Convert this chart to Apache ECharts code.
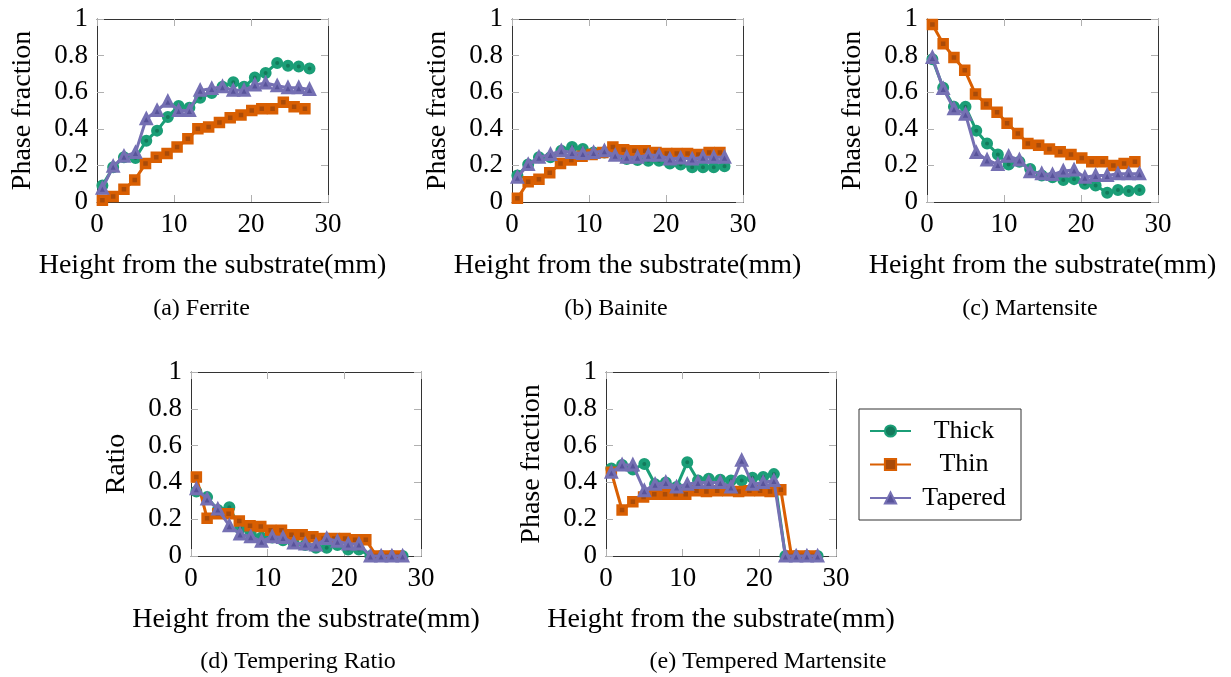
<!DOCTYPE html>
<html>
<head>
<meta charset="utf-8">
<script src="https://cdn.jsdelivr.net/npm/echarts@6/dist/echarts.min.js"></script>
<style>
  html, body { margin: 0; padding: 0; background: #ffffff; }
  #chart { width: 1231px; height: 677px; }
</style>
</head>
<body>
<div id="chart"></div>
<script>
// Build heights (mm) of the sampled layers for each wall geometry
const heightThick   = [0.7, 2.1, 3.5, 5.0, 6.4, 7.8, 9.2, 10.6, 12.0, 13.4, 14.9, 16.3, 17.7, 19.1, 20.5, 21.9, 23.4, 24.8, 26.2, 27.6];
const heightThin    = [0.7, 2.1, 3.5, 4.9, 6.3, 7.7, 9.1, 10.4, 11.8, 13.1, 14.5, 15.9, 17.3, 18.7, 20.1, 21.4, 22.8, 24.2, 25.6, 27.0];
const heightTapered = [0.7, 2.1, 3.5, 5.0, 6.4, 7.8, 9.2, 10.6, 12.0, 13.4, 14.9, 16.3, 17.7, 19.1, 20.5, 21.9, 23.4, 24.8, 26.2, 27.6];

// (a) Ferrite
const ferriteThick   = [0.09, 0.19, 0.245, 0.24, 0.335, 0.39, 0.465, 0.525, 0.515, 0.57, 0.595, 0.63, 0.655, 0.63, 0.68, 0.705, 0.76, 0.745, 0.74, 0.73];
const ferriteThin    = [0.01, 0.03, 0.07, 0.12, 0.21, 0.245, 0.265, 0.30, 0.345, 0.40, 0.41, 0.435, 0.46, 0.475, 0.50, 0.51, 0.51, 0.545, 0.52, 0.51];
const ferriteTapered = [0.075, 0.195, 0.25, 0.27, 0.455, 0.50, 0.55, 0.50, 0.50, 0.61, 0.62, 0.63, 0.61, 0.61, 0.64, 0.65, 0.635, 0.625, 0.625, 0.615];

// (b) Bainite
const bainiteThick   = [0.145, 0.205, 0.245, 0.245, 0.28, 0.30, 0.29, 0.27, 0.27, 0.265, 0.235, 0.23, 0.225, 0.225, 0.21, 0.205, 0.19, 0.19, 0.19, 0.195];
const bainiteThin    = [0.02, 0.11, 0.125, 0.16, 0.21, 0.23, 0.25, 0.26, 0.27, 0.30, 0.285, 0.28, 0.28, 0.27, 0.265, 0.265, 0.265, 0.26, 0.27, 0.27];
const bainiteTapered = [0.135, 0.205, 0.245, 0.26, 0.28, 0.27, 0.265, 0.27, 0.28, 0.255, 0.245, 0.245, 0.255, 0.255, 0.235, 0.24, 0.235, 0.245, 0.245, 0.245];

// (c) Martensite
const martensiteThick   = [0.78, 0.625, 0.52, 0.52, 0.39, 0.32, 0.26, 0.205, 0.22, 0.18, 0.145, 0.135, 0.12, 0.125, 0.10, 0.09, 0.05, 0.065, 0.06, 0.065];
const martensiteThin    = [0.97, 0.865, 0.79, 0.72, 0.59, 0.535, 0.49, 0.43, 0.375, 0.32, 0.31, 0.29, 0.275, 0.26, 0.24, 0.22, 0.22, 0.20, 0.21, 0.22];
const martensiteTapered = [0.79, 0.62, 0.51, 0.48, 0.27, 0.23, 0.205, 0.25, 0.23, 0.165, 0.155, 0.15, 0.17, 0.175, 0.135, 0.145, 0.145, 0.155, 0.155, 0.155];

// (d) Tempering ratio
const ratioThick   = [0.35, 0.32, 0.25, 0.265, 0.15, 0.12, 0.10, 0.10, 0.085, 0.07, 0.06, 0.045, 0.045, 0.06, 0.035, 0.035, 0, 0, 0, 0];
const ratioThin    = [0.43, 0.205, 0.23, 0.23, 0.19, 0.165, 0.16, 0.14, 0.14, 0.115, 0.115, 0.105, 0.095, 0.095, 0.095, 0.088, 0.088, 0, 0, 0];
const ratioTapered = [0.365, 0.31, 0.255, 0.165, 0.12, 0.105, 0.08, 0.105, 0.10, 0.07, 0.065, 0.06, 0.095, 0.08, 0.065, 0.065, 0, 0, 0, 0];

// (e) Tempered martensite
const temperedThick   = [0.475, 0.495, 0.47, 0.50, 0.39, 0.40, 0.375, 0.51, 0.41, 0.42, 0.415, 0.41, 0.41, 0.425, 0.43, 0.445, 0, 0, 0, 0];
const temperedThin    = [0.455, 0.25, 0.295, 0.32, 0.335, 0.335, 0.335, 0.335, 0.355, 0.35, 0.355, 0.355, 0.35, 0.355, 0.355, 0.35, 0.36, 0, 0, 0];
const temperedTapered = [0.455, 0.495, 0.495, 0.355, 0.39, 0.40, 0.375, 0.39, 0.40, 0.40, 0.40, 0.375, 0.52, 0.39, 0.40, 0.41, 0, 0, 0, 0];

const xTicks = [0, 10, 20, 30];
const yTicks = [0, 0.2, 0.4, 0.6, 0.8, 1];
const seriesNames = ['Thick', 'Thin', 'Tapered'];
const xAxisTitle = 'Height from the substrate(mm)';

const panels = [
  { yName: 'Phase fraction', caption: '(a) Ferrite',              values: [ferriteThick, ferriteThin, ferriteTapered] },
  { yName: 'Phase fraction', caption: '(b) Bainite',              values: [bainiteThick, bainiteThin, bainiteTapered] },
  { yName: 'Phase fraction', caption: '(c) Martensite',           values: [martensiteThick, martensiteThin, martensiteTapered] },
  { yName: 'Ratio',          caption: '(d) Tempering Ratio',      values: [ratioThick, ratioThin, ratioTapered] },
  { yName: 'Phase fraction', caption: '(e) Tempered Martensite',  values: [temperedThick, temperedThin, temperedTapered] }
];
const heights = [heightThick, heightThin, heightTapered];

// Layout of the five plot frames and their captions
const frames = [
  { left: 97,  top: 19,  width: 231, height: 183, capX: 201.5, capY: 309 },
  { left: 512, top: 19,  width: 231, height: 183, capX: 616,   capY: 309 },
  { left: 927, top: 19,  width: 231, height: 183, capX: 1030,  capY: 309 },
  { left: 191, top: 372, width: 230, height: 184, capX: 298,   capY: 662 },
  { left: 606, top: 372, width: 230, height: 184, capX: 768,   capY: 662 }
];

const FONT = '"Liberation Serif", "Times New Roman", serif';
const frameColor = '#333333';
const tickColor = '#b0b0b0';

const styles = [
  { symbol: 'circle',   symbolSize: 8,  line: '#1b9e77', fill: '#137a5b', border: 4 },
  { symbol: 'rect',     symbolSize: 8,  line: '#d95f02', fill: '#a94b09', border: 3.5 },
  { symbol: 'triangle', symbolSize: 10, line: '#7570b3', fill: '#58539a', border: 3 }
];

const grids = [], xAxes = [], yAxes = [], series = [], graphics = [];

panels.forEach((p, g) => {
  const f = frames[g];
  grids.push({ left: f.left, top: f.top, width: f.width, height: f.height, containLabel: false });

  const xBase = {
    gridIndex: g, type: 'value', min: xTicks[0], max: xTicks[xTicks.length - 1], interval: xTicks[1] - xTicks[0],
    axisLine: { show: true, onZero: false, lineStyle: { color: frameColor, width: 1 } },
    axisTick: { show: true, inside: true, length: 7, lineStyle: { color: tickColor, width: 1 } },
    splitLine: { show: false }
  };
  xAxes.push(Object.assign({}, xBase, {
    position: 'bottom',
    axisLabel: { fontSize: 27, color: '#000', fontFamily: FONT, margin: 9 },
    name: xAxisTitle, nameLocation: 'middle', nameGap: 50,
    nameTextStyle: { fontSize: 28, color: '#000', fontFamily: FONT }
  }));
  xAxes.push(Object.assign({}, xBase, { position: 'top', axisLabel: { show: false } }));

  const yBase = {
    gridIndex: g, type: 'value', min: yTicks[0], max: yTicks[yTicks.length - 1], interval: yTicks[1] - yTicks[0],
    axisLine: { show: true, onZero: false, lineStyle: { color: frameColor, width: 1 } },
    axisTick: { show: true, inside: true, length: 7, lineStyle: { color: tickColor, width: 1 } },
    splitLine: { show: false }
  };
  yAxes.push(Object.assign({}, yBase, {
    position: 'left',
    axisLabel: { fontSize: 27, color: '#000', fontFamily: FONT, margin: 9 },
    name: p.yName, nameLocation: 'middle', nameGap: 60, nameRotate: 90,
    nameTextStyle: { fontSize: 28, color: '#000', fontFamily: FONT }
  }));
  yAxes.push(Object.assign({}, yBase, { position: 'right', axisLabel: { show: false } }));

  p.values.forEach((vals, s) => {
    const st = styles[s];
    series.push({
      name: seriesNames[s], type: 'line',
      xAxisIndex: 2 * g, yAxisIndex: 2 * g,
      data: vals.map((v, i) => [heights[s][i], v]),
      symbol: st.symbol, symbolSize: st.symbolSize, showAllSymbol: true,
      clip: false,
      lineStyle: { color: st.line, width: 3 },
      itemStyle: { color: st.fill, borderColor: st.line, borderWidth: st.border, opacity: 1 },
      emphasis: { disabled: true },
      z: 2 + s
    });
  });

  graphics.push({
    type: 'text', x: f.capX, y: f.capY,
    style: { text: p.caption, font: '24px ' + FONT, fill: '#000', align: 'center', verticalAlign: 'middle' }
  });
});

const chart = echarts.init(document.getElementById('chart'), null, { renderer: 'canvas' });
chart.setOption({
  animation: false,
  backgroundColor: '#ffffff',
  grid: grids,
  xAxis: xAxes,
  yAxis: yAxes,
  series: series,
  graphic: graphics,
  legend: {
    data: seriesNames,
    orient: 'vertical', left: 859, top: 409,
    itemWidth: 41, itemHeight: 14, itemGap: 7.5,
    padding: [9, 9, 9, 10],
    borderColor: frameColor, borderWidth: 1,
    selectedMode: false,
    formatter: '{c|{name}}',
    textStyle: {
      rich: { c: { width: 96, align: 'center', fontSize: 26, lineHeight: 30, fontFamily: FONT, color: '#000' } }
    }
  }
});
</script>
</body>
</html>
